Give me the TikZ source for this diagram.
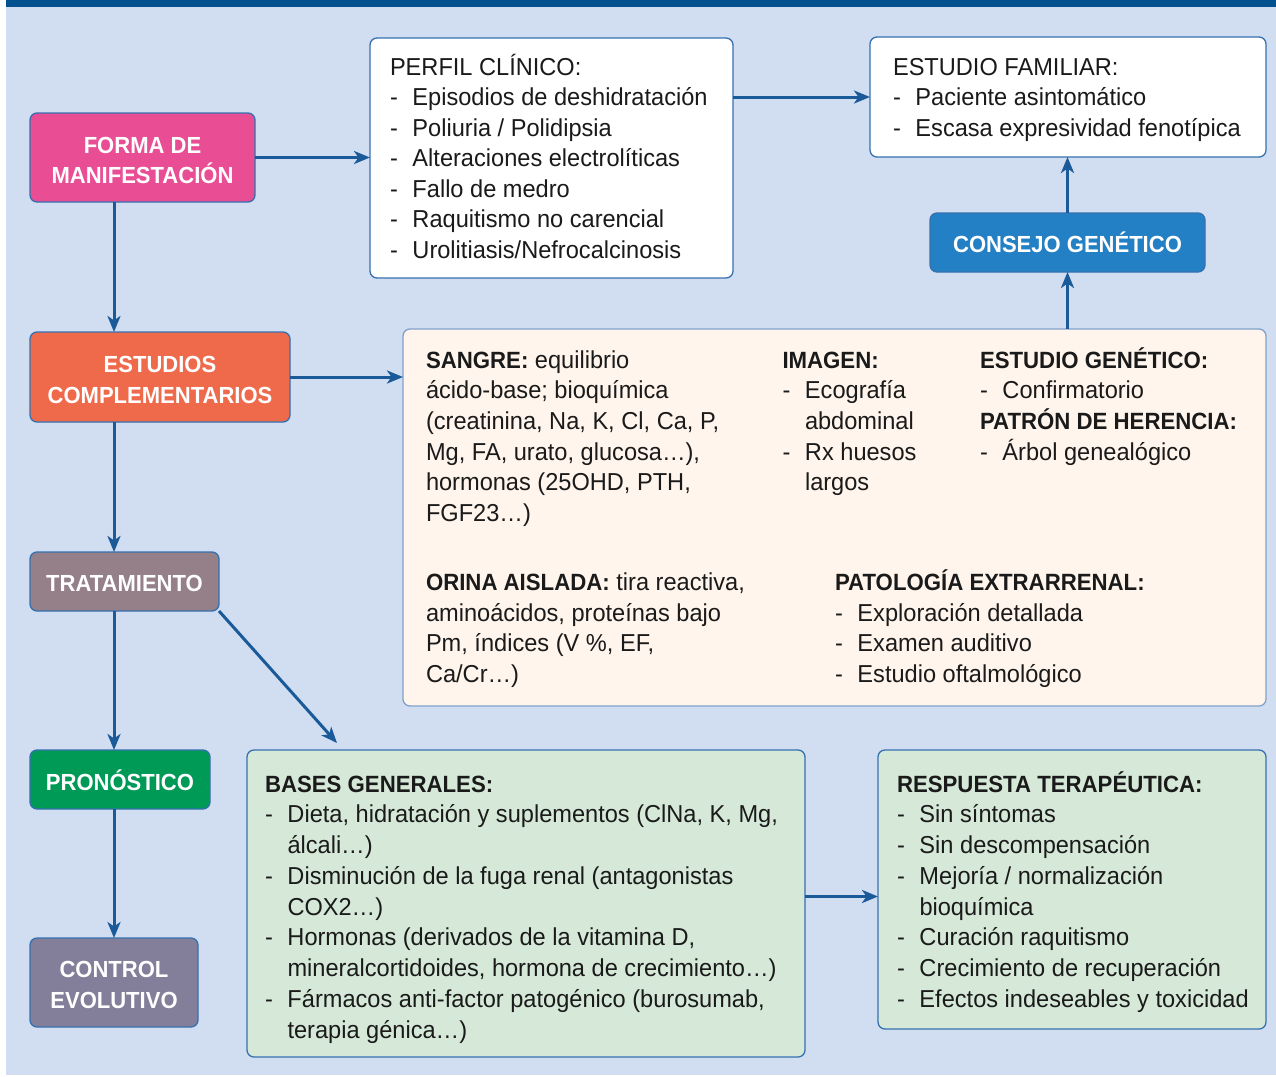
\documentclass[tikz,border=0pt]{standalone}
\usepackage{fontspec}
\setmainfont{Liberation Sans}[FakeStretch=0.963]
\newfontfamily\hbf{Liberation Sans}[FakeStretch=0.945]
\usetikzlibrary{arrows.meta,calc}
\definecolor{bgc}{HTML}{D1DDF0}
\definecolor{topbar}{HTML}{00518E}
\definecolor{arrc}{HTML}{1B5A98}
\definecolor{bord}{HTML}{3571B0}
\definecolor{bordlt}{HTML}{7FA2CA}
\definecolor{pinkc}{HTML}{E94E95}
\definecolor{orangec}{HTML}{EE6A4B}
\definecolor{mauvec}{HTML}{958089}
\definecolor{greenc}{HTML}{009A57}
\definecolor{purplec}{HTML}{837E99}
\definecolor{bluec}{HTML}{2480C4}
\definecolor{creamc}{HTML}{FFF5EC}
\definecolor{lgreenc}{HTML}{D6E9D8}
\definecolor{txtc}{HTML}{1A1A1A}
\newcommand\fsz{\fontsize{24.5}{30}\selectfont}
\newcommand\hdr{\hbf\bfseries\fontsize{23.5}{30}\selectfont}
\newcommand\dsh{\makebox[22.5pt][l]{-}}
\newcommand\cnt{\hspace*{22.5pt}}
\tikzset{
  box/.style={draw=bord, line width=1.3pt, rounded corners=7pt, inner sep=0pt, outer sep=0pt},
  lblbox/.style={box, fill=#1},
  txt/.style={anchor=base west, inner sep=0pt, outer sep=0pt, text=txtc, font=\fsz},
  lbl/.style={anchor=base, inner sep=0pt, outer sep=0pt, text=white, font=\hbf\bfseries\fontsize{23.3}{28}\selectfont},
  arr/.style={draw=arrc, line width=3pt, -{Stealth[length=16pt,width=13pt,inset=4.5pt]}}
}
\newcommand\tblock[5]{\foreach \ln [count=\k] in {#5}{\node[txt] (#1\k) at (#2,{#3+(\k-1)*#4}) {\ln};}}
\begin{document}
\begin{tikzpicture}[x=1pt,y=-1pt]
\useasboundingbox (0,0) rectangle (1276,1076);
\fill[white] (0,0) rectangle (1276,1076);
\fill[bgc] (6,0) rectangle (1276,1075);
\fill[topbar] (6,0) rectangle (1276,7);

% boxes
\node[lblbox=pinkc, minimum width=225, minimum height=89] (forma) at (142.5,157.5) {};
\node[lblbox=white, minimum width=363, minimum height=240] (perfil) at (551.5,158) {};
\node[lblbox=white, minimum width=396, minimum height=120] (fam) at (1068,97) {};
\node[lblbox=bluec, minimum width=275, minimum height=59] (consejo) at (1067.5,242.5) {};
\node[lblbox=orangec, minimum width=260, minimum height=90] (estudios) at (160,377) {};
\node[lblbox=creamc, draw=bordlt, minimum width=863, minimum height=377] (big) at (834.5,517.5) {};
\node[lblbox=mauvec, minimum width=189, minimum height=59] (trat) at (124.5,581.5) {};
\node[lblbox=greenc, minimum width=180, minimum height=59] (pron) at (120,779.5) {};
\node[lblbox=purplec, minimum width=168, minimum height=89] (control) at (114,982.5) {};
\node[lblbox=lgreenc, minimum width=558, minimum height=307] (bases) at (526,903.5) {};
\node[lblbox=lgreenc, minimum width=388, minimum height=279] (resp) at (1072,889.5) {};

% labels
\node[lbl] (formaA) at (142.5,153) {FORMA DE};
\node[lbl] (formaB) at (142.5,183) {MANIFESTACIÓN};
\node[lbl] (consejoA) at (1067.5,252) {CONSEJO GENÉTICO};
\node[lbl] (estA) at (160,372) {ESTUDIOS};
\node[lbl] (estB) at (160,403) {COMPLEMENTARIOS};
\node[lbl] (tratA) at (124.5,591.5) {TRATAMIENTO};
\node[lbl] (pronA) at (120,790) {PRONÓSTICO};
\node[lbl] (ctrlA) at (114,977) {CONTROL};
\node[lbl] (ctrlB) at (114,1008) {EVOLUTIVO};

% text blocks
\tblock{perf}{390}{75}{30.5}{PERFIL CLÍNICO:, \dsh Episodios de deshidratación, \dsh Poliuria / Polidipsia, \dsh Alteraciones electrolíticas, \dsh Fallo de medro, \dsh Raquitismo no carencial, \dsh Urolitiasis/Nefrocalcinosis}
\tblock{famt}{893}{75}{30.8}{ESTUDIO FAMILIAR:, \dsh Paciente asintomático, \dsh Escasa expresividad fenotípica}
\tblock{sang}{426}{368}{30.7}{{\hdr SANGRE:} equilibrio, ácido-base; bioquímica, {(creatinina, Na, K, Cl, Ca, P,}, {Mg, FA, urato, glucosa…),}, {hormonas (25OHD, PTH,}, FGF23…)}
\tblock{imag}{782.5}{368}{30.7}{{\hdr IMAGEN:}, \dsh Ecografía, \cnt abdominal, \dsh Rx huesos, \cnt largos}
\tblock{gene}{980}{368}{30.7}{{\hdr ESTUDIO GENÉTICO:}, \dsh Confirmatorio, {\hdr PATRÓN DE HERENCIA:}, \dsh Árbol genealógico}
\tblock{orin}{426}{590.5}{30.7}{{{\hdr ORINA AISLADA:} tira reactiva,}, {aminoácidos, proteínas bajo}, {Pm, índices (V \%, EF,}, Ca/Cr…)}
\tblock{pato}{835}{590.5}{30.7}{{\hdr PATOLOGÍA EXTRARRENAL:}, \dsh Exploración detallada, \dsh Examen auditivo, \dsh Estudio oftalmológico}
\tblock{bast}{265}{792}{30.75}{{\hdr BASES GENERALES:}, {\dsh Dieta, hidratación y suplementos (ClNa, K, Mg,}, \cnt álcali…), \dsh Disminución de la fuga renal (antagonistas, \cnt COX2…), {\dsh Hormonas (derivados de la vitamina D,}, {\cnt mineralcortidoides, hormona de crecimiento…)}, {\dsh Fármacos anti-factor patogénico (burosumab,}, \cnt terapia génica…)}
\tblock{rest}{897}{792}{30.75}{{\hdr RESPUESTA TERAPÉUTICA:}, \dsh Sin síntomas, \dsh Sin descompensación, \dsh Mejoría / normalización, \cnt bioquímica, \dsh Curación raquitismo, \dsh Crecimiento de recuperación, \dsh Efectos indeseables y toxicidad}

% connectors
\coordinate (diagend) at (337,743);
\coordinate (midbr) at ($(bases.east)!0.5!(resp.west)$);
\draw[arr] (forma.east) -- (forma.east -| perfil.west);
\draw[arr] (perfil.east |- fam.west) -- (fam.west);
\draw[arr] (forma.south -| control.north) -- (estudios.north -| control.north);
\draw[arr] (estudios.east) -- (estudios.east -| big.west);
\draw[arr] (consejo.south |- big.north) -- (consejo.south);
\draw[arr] (consejo.north) -- (consejo.north |- fam.south);
\draw[arr] (estudios.south -| control.north) -- (trat.north -| control.north);
\draw[arr] (trat.south -| control.north) -- (pron.north -| control.north);
\draw[arr] (trat.south east) -- (diagend);
\draw[arr] (pron.south -| control.north) -- (control.north);
\draw[arr] (bases.east |- midbr) -- (resp.west |- midbr);
\end{tikzpicture}
\end{document}
